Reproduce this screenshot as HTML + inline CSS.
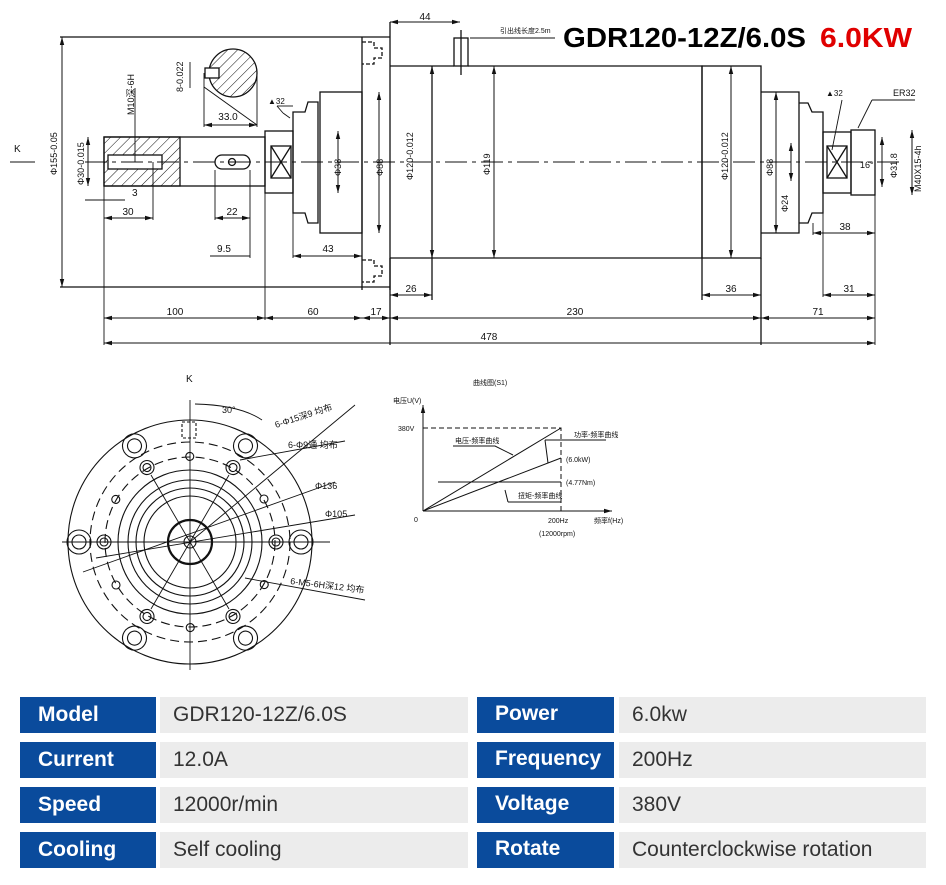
<!DOCTYPE html>
<html><head><meta charset="utf-8">
<style>
html,body{margin:0;padding:0;background:#fff;width:946px;height:885px;overflow:hidden;font-family:"Liberation Sans","Noto Sans CJK SC",sans-serif}
svg{position:absolute;left:0;top:0}
.t{position:absolute;font-size:21px;line-height:36px;height:36px}
.b{background:#0a4b9c;color:#fff;font-weight:bold;padding-left:18px;box-sizing:border-box}
.g{background:#ececec;color:#333;padding-left:13px;box-sizing:border-box}
</style></head><body>
<svg width="946" height="690" viewBox="0 0 946 690" xmlns="http://www.w3.org/2000/svg">
<defs>
<marker id="a" markerWidth="8" markerHeight="6" refX="8" refY="3" orient="auto-start-reverse"><path d="M0,0.8 L8,3 L0,5.2z" fill="#111"/></marker>
<pattern id="h" width="7" height="7" patternUnits="userSpaceOnUse" patternTransform="rotate(45)"><line x1="0" y1="0" x2="0" y2="7" stroke="#111" stroke-width="1"/></pattern>
</defs>
<g fill="none" stroke="#111" stroke-width="1.3">
<line x1="60" y1="37" x2="362" y2="37"/><line x1="60" y1="287" x2="390" y2="287"/>
<line x1="362" y1="37" x2="362" y2="290"/><line x1="390" y1="22" x2="390" y2="345"/>
<line x1="362" y1="37" x2="390" y2="37"/>
<path d="M390 66 H454 M468 66 H702 V258 H390"/>
<line x1="432" y1="66" x2="432" y2="300"/>
<line x1="390" y1="258" x2="390" y2="290"/>
<rect x="454" y="38" width="14" height="28"/><line x1="461" y1="30" x2="461" y2="75"/>
<rect x="702" y="66" width="59" height="192"/>
<line x1="702" y1="258" x2="702" y2="300"/><line x1="761" y1="258" x2="761" y2="345"/>
<rect x="104" y="137" width="161" height="49"/>
<rect x="104" y="137" width="76" height="49" fill="url(#h)"/>
<rect x="108" y="155" width="54" height="14" fill="#fff"/>
<rect x="215" y="155" width="35" height="14" rx="7"/><circle cx="232" cy="162" r="3.5"/>
<rect x="265" y="131" width="28" height="62"/>
<rect x="271" y="146" width="20" height="32"/><path d="M271 146 L291 178 M291 146 L271 178"/>
<path d="M293 112 H305 L308 102 H318 V223 H308 L305 213 H293Z"/>
<rect x="320" y="92" width="42" height="141"/>
<circle cx="233" cy="73" r="24" fill="url(#h)"/>
<rect x="205" y="68" width="14" height="10" fill="#fff"/>
<path d="M761 92 H799 V233 H761"/>
<path d="M799 103 H808 L812 112 H823 V213 H812 L808 223 H799"/>
<rect x="823" y="132" width="28" height="61"/>
<rect x="827" y="146" width="20" height="32"/><path d="M827 146 L847 178 M847 146 L827 178"/>
<rect x="851" y="130" width="24" height="65"/>
<path d="M362 42 H374 V48 H382 V58 H374 V64 H362" stroke-dasharray="4 2"/>
<path d="M362 260 H374 V266 H382 V276 H374 V282 H362" stroke-dasharray="4 2"/>
</g>
<line x1="85" y1="162" x2="900" y2="162" stroke="#111" stroke-width="0.9" stroke-dasharray="22 5 4 5"/>
<g stroke="#111" stroke-width="1" fill="none" marker-start="url(#a)" marker-end="url(#a)">
<line x1="104" y1="318" x2="265" y2="318"/><line x1="265" y1="318" x2="362" y2="318"/><line x1="362" y1="318" x2="390" y2="318"/>
<line x1="390" y1="318" x2="761" y2="318"/><line x1="761" y1="318" x2="875" y2="318"/>
<line x1="104" y1="343" x2="875" y2="343"/>
<line x1="390" y1="295" x2="432" y2="295"/><line x1="702" y1="295" x2="761" y2="295"/><line x1="823" y1="295" x2="875" y2="295"/>
<line x1="813" y1="233" x2="875" y2="233"/>
<line x1="62" y1="37" x2="62" y2="287"/><line x1="88" y1="137" x2="88" y2="186"/>
<line x1="432" y1="66" x2="432" y2="258"/><line x1="494" y1="66" x2="494" y2="258"/>
<line x1="731" y1="66" x2="731" y2="258"/><line x1="379" y1="92" x2="379" y2="233"/><line x1="776" y1="92" x2="776" y2="233"/>
<line x1="338" y1="131" x2="338" y2="193"/><line x1="791" y1="143" x2="791" y2="181"/>
<line x1="390" y1="22" x2="460" y2="22"/>
<line x1="104" y1="218" x2="153" y2="218"/><line x1="215" y1="218" x2="250" y2="218"/>
<line x1="293" y1="256" x2="362" y2="256"/><line x1="204" y1="87" x2="257" y2="125" marker-start="none" marker-end="none"/>
<line x1="204" y1="125" x2="257" y2="125"/>
<line x1="882" y1="137" x2="882" y2="187"/><line x1="912" y1="130" x2="912" y2="195"/>
</g>
<g stroke="#111" stroke-width="0.9">
<line x1="104" y1="186" x2="104" y2="345"/><line x1="265" y1="193" x2="265" y2="320"/><line x1="875" y1="195" x2="875" y2="345"/>
<line x1="153" y1="162" x2="153" y2="220"/><line x1="215" y1="170" x2="215" y2="220"/><line x1="250" y1="170" x2="250" y2="258"/>
<line x1="293" y1="213" x2="293" y2="258"/><line x1="823" y1="213" x2="823" y2="297"/><line x1="813" y1="223" x2="813" y2="235"/>
<line x1="204" y1="73" x2="204" y2="127"/><line x1="257" y1="73" x2="257" y2="127"/>
<line x1="190" y1="62" x2="190" y2="88"/><line x1="135" y1="88" x2="135" y2="162"/>
<line x1="210" y1="256" x2="250" y2="256"/><line x1="85" y1="200" x2="125" y2="200"/>
<line x1="10" y1="162" x2="35" y2="162"/>
<line x1="283" y1="113" x2="290" y2="118"/><line x1="277" y1="106" x2="283" y2="113"/><line x1="277" y1="106" x2="293" y2="106"/>
<line x1="470" y1="38" x2="490" y2="38"/><line x1="490" y1="38" x2="555" y2="38"/>
<line x1="842" y1="100" x2="832" y2="150"/><line x1="872" y1="100" x2="858" y2="128"/><line x1="872" y1="100" x2="915" y2="100"/>
</g>
<g font-family="Liberation Sans,Noto Sans CJK SC,sans-serif" font-size="10" fill="#111">
<text x="175" y="315" text-anchor="middle">100</text><text x="313" y="315" text-anchor="middle">60</text>
<text x="376" y="315" text-anchor="middle">17</text><text x="575" y="315" text-anchor="middle">230</text>
<text x="818" y="315" text-anchor="middle">71</text><text x="489" y="340" text-anchor="middle">478</text>
<text x="411" y="292" text-anchor="middle">26</text><text x="731" y="292" text-anchor="middle">36</text><text x="849" y="292" text-anchor="middle">31</text>
<text x="845" y="230" text-anchor="middle">38</text><text x="128" y="215" text-anchor="middle">30</text>
<text x="232" y="215" text-anchor="middle">22</text><text x="224" y="252" text-anchor="middle">9.5</text><text x="328" y="252" text-anchor="middle">43</text>
<text x="132" y="196">3</text><text x="425" y="20" text-anchor="middle">44</text>
<text x="228" y="120" text-anchor="middle">33.0</text>
<text x="14" y="152">K</text><text x="186" y="382">K</text>
<text x="268" y="104" font-size="8">▲32</text><text x="826" y="96" font-size="8">▲32</text><text x="893" y="96" font-size="9">ER32</text>
<text x="500" y="33" font-size="7">引出线长度2.5m</text>
<text x="860" y="168" font-size="9">16°</text>
<g font-size="9">
<text transform="translate(57,175) rotate(-90)">Φ155-0.05</text>
<text transform="translate(84,185) rotate(-90)">Φ30-0.015</text>
<text transform="translate(134,115) rotate(-90)">M10深-6H</text>
<text transform="translate(183,92) rotate(-90)">8-0.022</text>
<text transform="translate(341,176) rotate(-90)">Φ38</text>
<text transform="translate(383,176) rotate(-90)">Φ88</text>
<text transform="translate(413,180) rotate(-90)">Φ120-0.012</text>
<text transform="translate(490,175) rotate(-90)">Φ119</text>
<text transform="translate(728,180) rotate(-90)">Φ120-0.012</text>
<text transform="translate(773,176) rotate(-90)">Φ88</text>
<text transform="translate(788,212) rotate(-90)">Φ24</text>
<text transform="translate(897,178) rotate(-90)">Φ31.8</text>
<text transform="translate(921,192) rotate(-90)">M40X15-4h</text>
</g>
</g>
<text x="563" y="47" font-family="Liberation Sans,sans-serif" font-weight="bold" font-size="28" fill="#000" textLength="243" lengthAdjust="spacingAndGlyphs">GDR120-12Z/6.0S</text>
<text x="820" y="47" font-family="Liberation Sans,sans-serif" font-weight="bold" font-size="28" fill="#e00000" textLength="92" lengthAdjust="spacingAndGlyphs">6.0KW</text>

<g fill="none" stroke="#111" stroke-width="1.1">
<circle cx="190" cy="542" r="122"/>
<circle cx="190" cy="542" r="100" stroke-dasharray="9 5"/>
<circle cx="190" cy="542" r="85" stroke-dasharray="9 5"/>
<circle cx="190" cy="542" r="72"/>
<circle cx="190" cy="542" r="62"/>
<circle cx="190" cy="542" r="54"/>
<circle cx="190" cy="542" r="46"/>
<circle cx="190" cy="542" r="22" stroke-width="2.2"/>
<circle cx="190" cy="542" r="6"/>
<g id="big">
<circle cx="301" cy="542" r="12"/><circle cx="301" cy="542" r="7"/>
<circle cx="276" cy="542" r="7"/><circle cx="276" cy="542" r="4"/>
</g>
<use href="#big" transform="rotate(60 190 542)"/><use href="#big" transform="rotate(120 190 542)"/>
<use href="#big" transform="rotate(180 190 542)"/><use href="#big" transform="rotate(240 190 542)"/><use href="#big" transform="rotate(300 190 542)"/>
<g id="sm"><circle cx="264" cy="499" r="4"/></g>
<use href="#sm" transform="rotate(60 190 542)"/><use href="#sm" transform="rotate(120 190 542)"/>
<use href="#sm" transform="rotate(180 190 542)"/><use href="#sm" transform="rotate(240 190 542)"/><use href="#sm" transform="rotate(300 190 542)"/>
<rect x="182" y="422" width="14" height="16" stroke-dasharray="3 2"/>
</g>
<g stroke="#111" stroke-width="0.9">
<line x1="62" y1="542" x2="330" y2="542"/><line x1="190" y1="400" x2="190" y2="670"/>
<line x1="151" y1="475" x2="229" y2="609"/><line x1="229" y1="475" x2="151" y2="609"/>
<line x1="190" y1="542" x2="355" y2="405"/><line x1="240" y1="460" x2="345" y2="441"/>
<line x1="83" y1="572" x2="335" y2="482"/><line x1="96" y1="558" x2="355" y2="515"/>
<line x1="245" y1="578" x2="365" y2="600"/>
<path d="M195 404 Q240 405 262 420" fill="none"/>
</g>
<g font-family="Liberation Sans,Noto Sans CJK SC,sans-serif" font-size="9" fill="#111">
<text x="222" y="413">30°</text>
<text transform="translate(276,428) rotate(-18)">6-Φ15深9 均布</text>
<text x="288" y="448">6-Φ9通 均布</text>
<text x="315" y="489">Φ136</text><text x="325" y="517">Φ105</text>
<text transform="translate(290,584) rotate(7)">6-M5-6H深12 均布</text>
</g>

<g stroke="#111" stroke-width="1" fill="none">
<line x1="423" y1="511" x2="423" y2="405" marker-end="url(#a)"/>
<line x1="423" y1="511" x2="612" y2="511" marker-end="url(#a)"/>
<path d="M423 428 H561 V511" stroke-dasharray="5 3"/>
<line x1="423" y1="511" x2="561" y2="428"/>
<line x1="423" y1="511" x2="561" y2="458"/>
<line x1="438" y1="482" x2="561" y2="482"/>
<path d="M453 446 H495 L513 455"/><path d="M545 440 H606 M545 440 L548 463"/>
<path d="M508 502 H561 M508 502 L505 490"/>
</g>
<g font-family="Liberation Sans,Noto Sans CJK SC,sans-serif" font-size="7" fill="#111">
<text x="473" y="385">曲线图(S1)</text><text x="393" y="403">电压U(V)</text>
<text x="398" y="431">380V</text><text x="414" y="522">0</text>
<text x="548" y="523">200Hz</text><text x="539" y="536">(12000rpm)</text>
<text x="594" y="523">频率f(Hz)</text>
<text x="455" y="443">电压-频率曲线</text><text x="574" y="437">功率-频率曲线</text>
<text x="566" y="462">(6.0kW)</text><text x="566" y="485">(4.77Nm)</text>
<text x="518" y="498">扭矩-频率曲线</text>
</g>
</svg>

<div class="t b" style="left:20px;top:697px;width:136px">Model</div>
<div class="t g" style="left:160px;top:697px;width:308px">GDR120-12Z/6.0S</div>
<div class="t b" style="left:477px;top:697px;width:137px;line-height:34px">Power</div>
<div class="t g" style="left:619px;top:697px;width:307px">6.0kw</div>
<div class="t b" style="left:20px;top:742px;width:136px">Current</div>
<div class="t g" style="left:160px;top:742px;width:308px">12.0A</div>
<div class="t b" style="left:477px;top:742px;width:137px;line-height:34px">Frequency</div>
<div class="t g" style="left:619px;top:742px;width:307px">200Hz</div>
<div class="t b" style="left:20px;top:787px;width:136px">Speed</div>
<div class="t g" style="left:160px;top:787px;width:308px">12000r/min</div>
<div class="t b" style="left:477px;top:787px;width:137px;line-height:34px">Voltage</div>
<div class="t g" style="left:619px;top:787px;width:307px">380V</div>
<div class="t b" style="left:20px;top:832px;width:136px">Cooling</div>
<div class="t g" style="left:160px;top:832px;width:308px">Self cooling</div>
<div class="t b" style="left:477px;top:832px;width:137px;line-height:34px">Rotate</div>
<div class="t g" style="left:619px;top:832px;width:307px">Counterclockwise rotation</div>
</body></html>
